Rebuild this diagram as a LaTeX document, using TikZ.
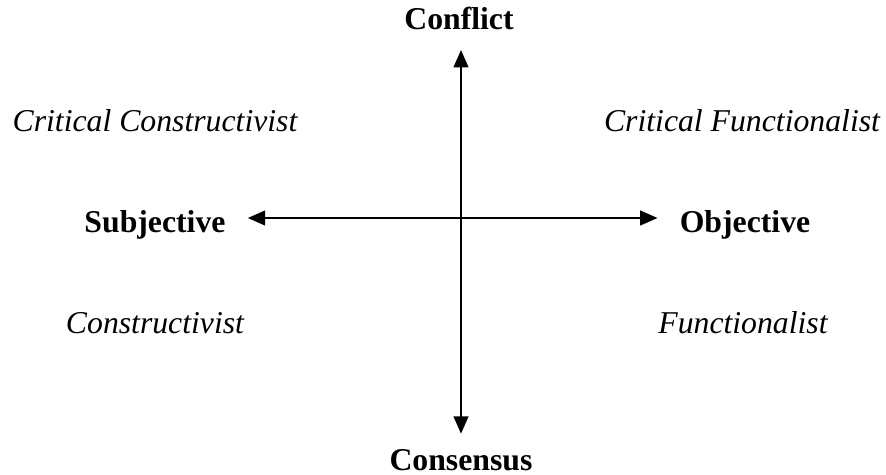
\documentclass[tikz,border=0pt]{standalone}
\usepackage{fontspec}
\setmainfont{Liberation Serif}
\usetikzlibrary{positioning,arrows.meta,calc}

\begin{document}
\begin{tikzpicture}[x=0.75pt,y=-0.75pt,
      pole/.style={font=\fontsize{23.8}{28}\selectfont\bfseries,anchor=base,inner sep=0pt},
      view/.style={font=\fontsize{23.8}{28}\selectfont\itshape,anchor=base,inner sep=0pt},
      axis/.style={line width=1.5pt,{Triangle[length=13pt,width=11pt]}-{Triangle[length=13pt,width=11pt]}}]
    \useasboundingbox (0,0) rectangle (886,475);
    \coordinate (o) at (461,218);
    % poles
    \node[pole] (conf) at (459,29.5){Conflict};
    \node[pole] (cons) at (461,470){Consensus};
    \node[pole] (subj) at (155,232.5){Subjective};
    \node[pole] (obj)  at (745,232.5){Objective};
    % quadrants
    \node[view] (ccon) at (155,131.5){Critical Constructivist};
    \node[view] (cfun) at (742,131.5){Critical Functionalist};
    \node[view] (con)  at (155,333){Constructivist};
    \node[view] (fun)  at (743,333){Functionalist};
    % axes
    \draw[axis] ($(o |- conf.base)+(0,20.5)$) -- ($(o |- cons.north)+(0,-15)$);
    \draw[axis] ($(subj.east |- o)+(22,0)$) -- ($(obj.west |- o)+(-22,0)$);
  \end{tikzpicture}
\end{document}
